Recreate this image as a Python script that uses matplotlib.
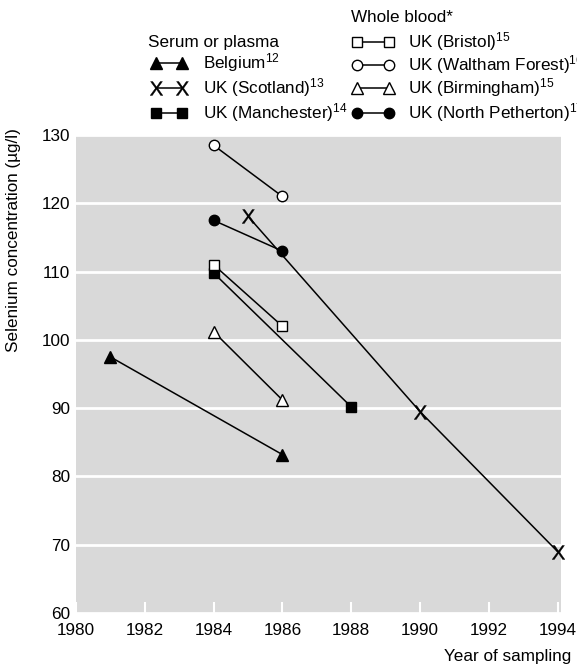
import matplotlib
matplotlib.use("Agg")
import matplotlib.pyplot as plt

plt.rcParams['font.family'] = ['Liberation Sans', 'DejaVu Sans']
plt.rcParams['mathtext.fontset'] = 'custom'
plt.rcParams['mathtext.rm'] = 'Liberation Sans'
plt.rcParams['mathtext.it'] = 'Liberation Sans'
plt.rcParams['mathtext.default'] = 'regular'

# Datos (ano, selenio ug/l)
belgica_x = [1981, 1986]
belgica_y = [97.5, 83.2]
escocia_x = [1985, 1990, 1994]
escocia_y = [118.1, 89.5, 69.0]
manchester_x = [1984, 1988]
manchester_y = [109.8, 90.2]
bristol_x = [1984, 1986]
bristol_y = [111.0, 102.0]
waltham_x = [1984, 1986]
waltham_y = [128.5, 121.0]
birmingham_x = [1984, 1986]
birmingham_y = [101.2, 91.2]
petherton_x = [1984, 1986]
petherton_y = [117.5, 113.0]

anos = list(range(1980, 1995, 2))
niveles = list(range(60, 131, 10))

W, H = 577, 666
fig = plt.figure(figsize=(W / 100, H / 100), dpi=100)
ax = fig.add_axes([76 / W, (H - 613) / H, (561 - 76) / W, (613 - 135) / H])
ax.set_facecolor('#d9d9d9')
for s in ax.spines.values():
    s.set_visible(False)

# estilos de cada serie
estilos = {
    'belgica': dict(marker='^', ms=9, mfc='black'),
    'escocia': dict(marker='$X$', ms=10, mfc='black', mew=0.3),
    'manchester': dict(marker='s', ms=6.5, mfc='black'),
    'bristol': dict(marker='s', ms=6.5, mfc='white'),
    'waltham': dict(marker='o', ms=7.5, mfc='white'),
    'birmingham': dict(marker='^', ms=9, mfc='white'),
    'petherton': dict(marker='o', ms=7.5, mfc='black'),
}
comun = dict(color='black', lw=1.1, mec='black', clip_on=False, zorder=3)

ax.plot(belgica_x, belgica_y, **estilos['belgica'], **comun)
ax.plot(escocia_x, escocia_y, **estilos['escocia'], **comun)
ax.plot(manchester_x, manchester_y, **estilos['manchester'], **comun)
ax.plot(bristol_x, bristol_y, **estilos['bristol'], **comun)
ax.plot(waltham_x, waltham_y, **estilos['waltham'], **comun)
ax.plot(birmingham_x, birmingham_y, **estilos['birmingham'], **comun)
ax.plot(petherton_x, petherton_y, **estilos['petherton'], **comun)

ax.set_xlim(1980.05, 1994.1)
ax.set_ylim(60, 130)
ax.set_xticks(anos)
ax.set_yticks(niveles)
ax.yaxis.grid(True, color='white', lw=2)
ax.set_axisbelow(True)
ax.tick_params(axis='x', direction='in', color='white', length=8, width=1.5,
               pad=7, labelsize=12.3)
ax.tick_params(axis='y', length=0, pad=4, labelsize=12.3)

ax.set_ylabel('Selenium concentration (µg/l)', fontsize=12.3)
ax.yaxis.set_label_coords(-0.113, 0.78)
ax.set_xlabel('Year of sampling', fontsize=12.3, ha='right', va='center')
ax.xaxis.set_label_coords((571 - 76) / 485, (613 - 657) / 478)

# leyenda dibujada a mano en coordenadas de pixel
lg = fig.add_axes([0, 0, 1, 1])
lg.set_xlim(0, W)
lg.set_ylim(H, 0)
lg.axis('off')
lg.patch.set_visible(False)

fs = 12.3
lg.text(148, 42, 'Serum or plasma', fontsize=fs, va='center')
filas1 = [('belgica', 'Belgium$^{12}$', 63),
          ('escocia', 'UK (Scotland)$^{13}$', 88),
          ('manchester', 'UK (Manchester)$^{14}$', 113)]
for clave, txt, y in filas1:
    lg.plot([156, 182], [y, y], **estilos[clave], **comun)
    lg.text(203, y, txt, fontsize=fs, va='center')

lg.text(351, 18, 'Whole blood*', fontsize=fs, va='center')
filas2 = [('bristol', 'UK (Bristol)$^{15}$', 42),
          ('waltham', 'UK (Waltham Forest)$^{16}$', 65),
          ('birmingham', 'UK (Birmingham)$^{15}$', 88),
          ('petherton', 'UK (North Petherton)$^{17}$', 113)]
for clave, txt, y in filas2:
    lg.plot([357, 389], [y, y], **estilos[clave], **comun)
    lg.text(408, y, txt, fontsize=fs, va='center')

fig.savefig('out.png', dpi=100)
